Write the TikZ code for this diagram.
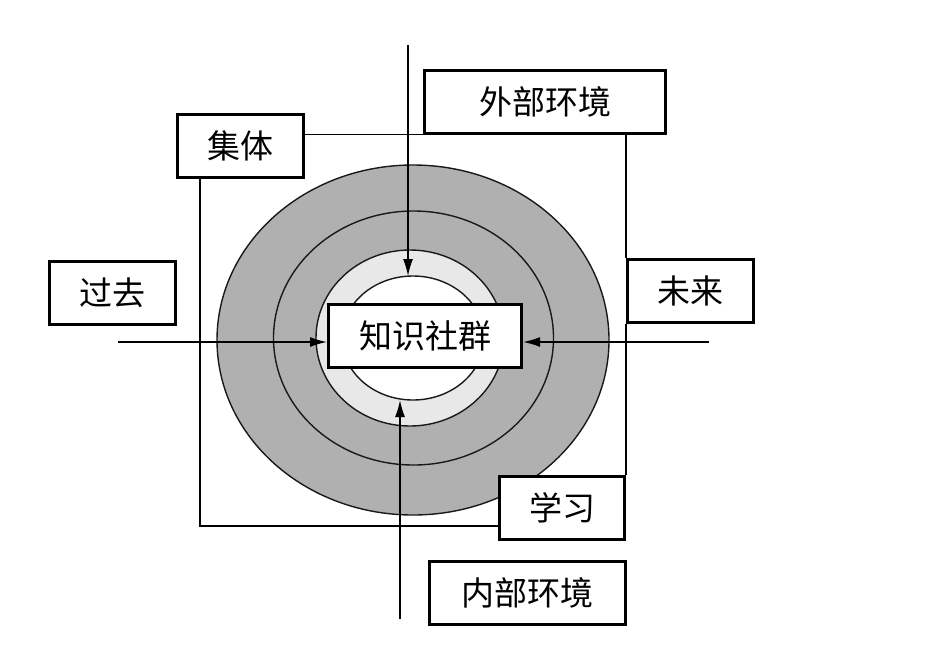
\documentclass[tikz,border=0pt]{standalone}
\usepackage{fontspec}
\newfontfamily\cjk{Noto Sans CJK SC}
\usetikzlibrary{arrows.meta,shapes.geometric}

\begin{document}
\begin{tikzpicture}[
    x=1pt, y=-1pt,
    labelbox/.style={draw=black, line width=3pt, fill=white, inner sep=0pt, minimum height=63pt, font=\cjk\fontsize{33}{38}\selectfont},
    wire/.style={line width=1.5pt, draw=black},
    feed/.style={wire, -{Latex[length=17pt,width=10pt]}},
    ring/.style={line width=1.4pt, draw=black!90}
]
    \useasboundingbox (0,0) rectangle (925,651);

    % ==================== RINGS ====================
    \filldraw[ring, fill=black!31] (413,340) ellipse [x radius=196, y radius=175];
    \draw[ring] (413.5,338) ellipse [x radius=140, y radius=127];
    \filldraw[ring, fill=black!9] (410,338) ellipse [x radius=94, y radius=88];
    \node[ellipse, ring, fill=white, minimum width=142pt, minimum height=124pt, inner sep=0pt, outer sep=0pt] (core) at (413,338) {};

    % ==================== BOXES ====================
    \node[labelbox, minimum width=126pt] (jiti) at (240.5,146) {集体};
    \node[labelbox, minimum width=241pt] (waibu) at (545,101.5) {外部环境};
    \node[labelbox, minimum width=126pt] (guoqu) at (112.5,293) {过去};
    \node[labelbox, minimum width=126pt] (weilai) at (690.5,291) {未来};
    \node[labelbox, minimum width=193pt] (zhishi) at (425,336) {知识社群};
    \node[labelbox, minimum width=125pt] (xuexi) at (562,507.5) {学习};
    \node[labelbox, minimum width=196pt] (neibu) at (527.5,593) {内部环境};

    % ==================== FRAME ====================
    \coordinate (corner) at (200,526);
    \draw[wire] (waibu.south west) -- (waibu.south west -| jiti.east);
    \draw[wire] (jiti.south -| corner) -- (corner) -- (corner -| xuexi.west);
    \draw[wire] (waibu.south -| weilai.west) -- (weilai.north west);
    \draw[wire] (weilai.south west) -- (xuexi.north east);

    % ==================== ARROWS ====================
    \coordinate (topend) at (408,45);
    \coordinate (bottomend) at (400,619);
    \coordinate (leftend) at (118,342);
    \coordinate (rightend) at (709,342);
    \draw[feed] (topend) -- (topend |- core.north);
    \draw[feed] (bottomend) -- (bottomend |- core.south);
    \draw[feed] (leftend) -- (leftend -| zhishi.west);
    \draw[feed] (rightend) -- (rightend -| zhishi.east);

\end{tikzpicture}
\end{document}
